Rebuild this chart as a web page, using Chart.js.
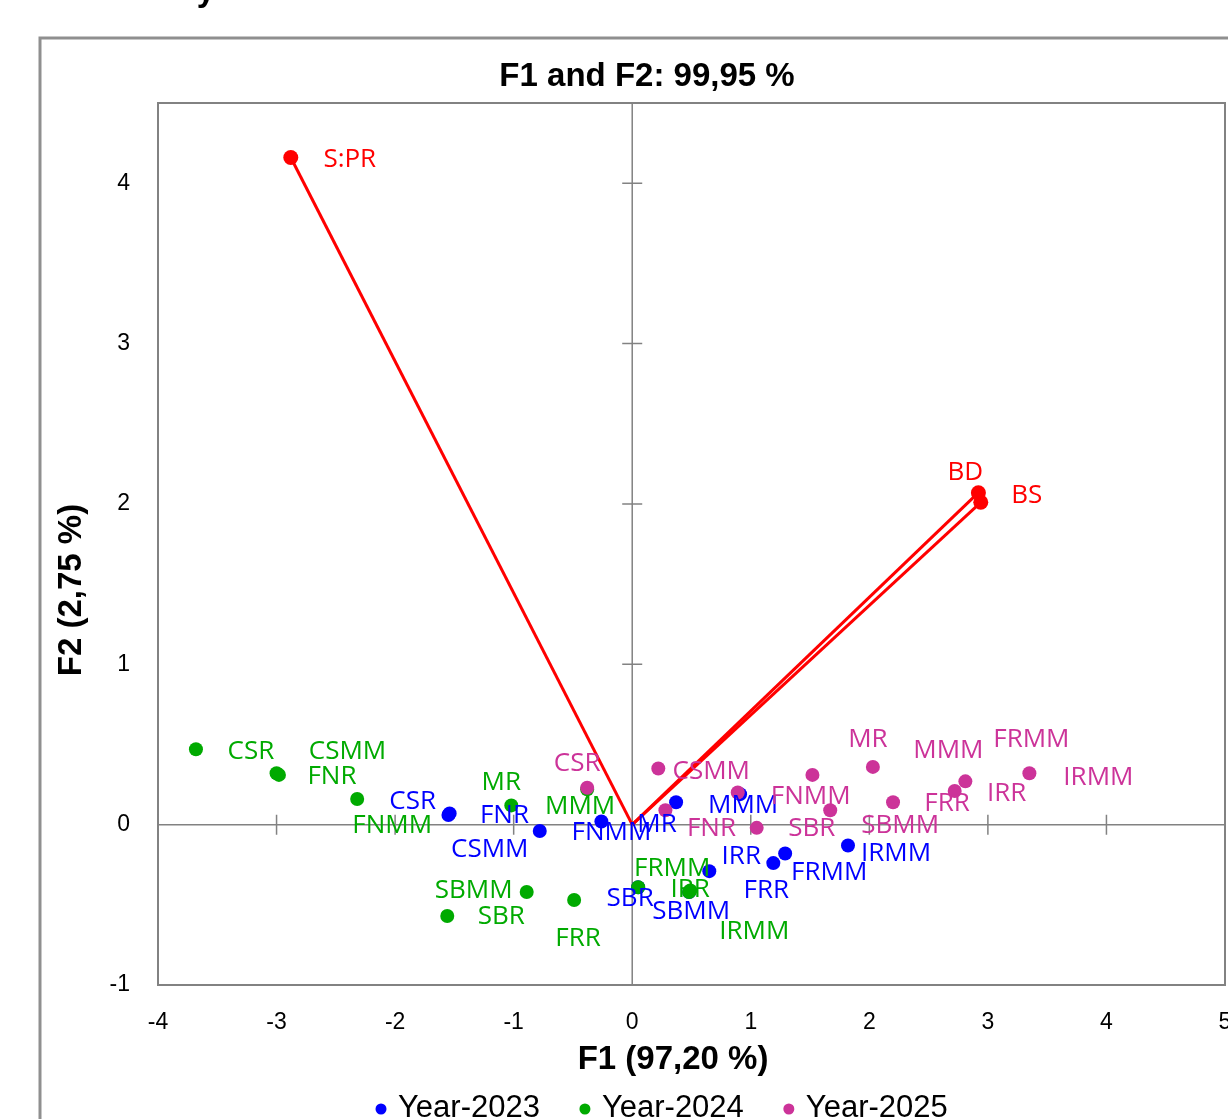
<!DOCTYPE html>
<html lang="en">
<head>
<meta charset="utf-8">
<title>F1 and F2: 99,95 %</title>
<script src="https://cdn.jsdelivr.net/npm/chart.js@4.4.1/dist/chart.umd.min.js"></script>
<style>
  html, body { margin: 0; padding: 0; background: #fff; overflow: hidden; }
  #grafico { position: absolute; left: 0; top: 0; }
</style>
</head>
<body>
<canvas id="grafico" width="1260" height="1140"></canvas>
<script>
// Biplot F1 x F2

const titulo = "F1 and F2: 99,95 %";
const tituloF1 = "F1 (97,20 %)";
const tituloF2 = "F2 (2,75 %)";

const ticksF1 = [-4, -3, -2, -1, 0, 1, 2, 3, 4, 5];
const ticksF2 = [-1, 0, 1, 2, 3, 4];
const limitesF1 = [-4, 5];
const limitesF2 = [-1, 4.5];

const anos = ["Year-2023", "Year-2024", "Year-2025"];
const coresAnos = ["#0000ff", "#00aa00", "#cc3399"];

const nomes2023 = ["CSR", "FNR", "CSMM", "FNMM", "MR", "MMM", "SBR", "SBMM", "IRR", "FRR", "FRMM", "IRMM"];
const f1Ano2023 = [-1.54, -1.55, -0.78, -0.26, 0.37, 0.91, 0.05, 0.48, 0.65, 1.19, 1.29, 1.82];
const f2Ano2023 = [0.07, 0.06, -0.04, 0.02, 0.14, 0.19, -0.39, -0.42, -0.29, -0.24, -0.18, -0.13];

const nomes2024 = ["CSR", "CSMM", "FNR", "FNMM", "MR", "MMM", "SBR", "SBMM", "FRR", "FRMM", "IRR", "IRMM"];
const f1Ano2024 = [-3.68, -3.0, -2.98, -2.32, -1.02, -0.38, -1.56, -0.89, -0.49, 0.05, 0.48, 0.49];
const f2Ano2024 = [0.47, 0.32, 0.31, 0.16, 0.12, 0.22, -0.57, -0.42, -0.47, -0.39, -0.42, -0.41];

const nomes2025 = ["CSR", "CSMM", "FNR", "FNMM", "SBR", "MMM", "SBMM", "MR", "FRR", "IRR", "FRMM", "IRMM"];
const f1Ano2025 = [-0.38, 0.22, 0.28, 0.89, 1.05, 1.52, 1.67, 2.03, 2.2, 2.72, 2.81, 3.35];
const f2Ano2025 = [0.23, 0.35, 0.09, 0.2, -0.02, 0.31, 0.09, 0.36, 0.14, 0.21, 0.27, 0.32];

const variaveis = ["S:PR", "BD", "BS"];
const f1Variaveis = [-2.88, 2.92, 2.94];
const f2Variaveis = [4.16, 2.07, 2.01];

// deslocamento (px) de cada rótulo em relação ao seu ponto
const desloc2023 = [[-37, -12], [56, 1], [-50, 19], [10, 11], [-19, 22], [3, 11], [-8, 11], [2, 20], [32, -15], [-7, 27], [44, 19], [48, 8]];
const desloc2024 = [[55, 2], [71, -22], [53, 2], [35, 27], [-10, -23], [-7, 17], [54, 1], [-53, -1], [4, 39], [34, -19], [1, -2], [64, 41]];
const desloc2025 = [[-10, -24], [53, 3], [46, 18], [73, 4], [55, 1], [136, -24], [70, 15], [-5, -27], [54, 1], [52, 3], [66, -42], [69, 4]];
const deslocVariaveis = [[59, 2], [-13, -20], [46, -7]];

const fonteTexto = '"Liberation Sans", Arial, sans-serif';
const fonteRotulo = '26px "Open Sans", sans-serif';
const cinza = "#828282";

const nomesAnos = [nomes2023, nomes2024, nomes2025];
const f1Anos = [f1Ano2023, f1Ano2024, f1Ano2025];
const f2Anos = [f2Ano2023, f2Ano2024, f2Ano2025];
const deslocAnos = [desloc2023, desloc2024, desloc2025];

function montarDatasets() {
  const datasets = [];

  variaveis.forEach((nome, k) => {
    datasets.push({
      label: nome,
      data: [{ x: 0, y: 0 }, { x: f1Variaveis[k], y: f2Variaveis[k] }],
      showLine: true,
      borderColor: "#ff0000",
      backgroundColor: "#ff0000",
      borderWidth: 3,
      pointRadius: [0, 7.5],
      pointBorderWidth: 0,
      order: 0,
      nomes: [null, nome],
      desloc: [null, deslocVariaveis[k]],
      naLegenda: false,
    });
  });

  anos.forEach((ano, i) => {
    datasets.push({
      label: ano,
      data: f1Anos[i].map((x, j) => ({ x: x, y: f2Anos[i][j] })),
      backgroundColor: coresAnos[i],
      borderColor: coresAnos[i],
      pointRadius: 7,
      pointBorderWidth: 0,
      order: 3 - i,
      nomes: nomesAnos[i],
      desloc: deslocAnos[i],
      naLegenda: true,
    });
  });

  return datasets;
}

// moldura, eixos cruzados no zero e marcas
const pluginEixos = {
  id: "eixos",
  beforeDatasetsDraw(chart) {
    const ctx = chart.ctx;
    const area = chart.chartArea;
    const sx = chart.scales.x;
    const sy = chart.scales.y;
    const x0 = sx.getPixelForValue(0);
    const y0 = sy.getPixelForValue(0);

    ctx.save();
    ctx.strokeStyle = "#8f8f8f";
    ctx.lineWidth = 3;
    ctx.beginPath();
    ctx.moveTo(40, chart.height);
    ctx.lineTo(40, 38);
    ctx.lineTo(chart.width, 38);
    ctx.stroke();

    ctx.strokeStyle = cinza;
    ctx.lineWidth = 2;
    ctx.strokeRect(area.left, area.top, area.right - area.left, area.bottom - area.top);

    ctx.lineWidth = 1.5;
    ctx.beginPath();
    ctx.moveTo(area.left, y0);
    ctx.lineTo(area.right, y0);
    ctx.moveTo(x0, area.top);
    ctx.lineTo(x0, area.bottom);
    ticksF1.forEach((v) => {
      const px = sx.getPixelForValue(v);
      ctx.moveTo(px, y0 - 10);
      ctx.lineTo(px, y0 + 10);
    });
    ticksF2.forEach((v) => {
      const py = sy.getPixelForValue(v);
      ctx.moveTo(x0 - 10, py);
      ctx.lineTo(x0 + 10, py);
    });
    ctx.stroke();
    ctx.restore();
  },
};

const pluginRotulos = {
  id: "rotulos",
  afterDatasetsDraw(chart) {
    const ctx = chart.ctx;
    ctx.save();
    ctx.font = fonteRotulo;
    ctx.textAlign = "center";
    ctx.textBaseline = "middle";
    chart.data.datasets.forEach((ds, i) => {
      const meta = chart.getDatasetMeta(i);
      ds.nomes.forEach((nome, j) => {
        if (!nome) return;
        const p = meta.data[j];
        ctx.fillStyle = ds.borderColor;
        ctx.fillText(nome, p.x + ds.desloc[j][0], p.y + ds.desloc[j][1]);
      });
    });
    ctx.restore();
  },
};

// título, títulos dos eixos e legenda
const pluginTextos = {
  id: "textos",
  afterDraw(chart) {
    const ctx = chart.ctx;
    ctx.save();
    ctx.fillStyle = "#000";
    ctx.textBaseline = "middle";
    ctx.textAlign = "center";

    ctx.font = "bold 33px " + fonteTexto;
    ctx.fillText(titulo, 647, 77);
    ctx.fillText(tituloF1, 673, 1060);

    ctx.save();
    ctx.translate(72, 590);
    ctx.rotate(-Math.PI / 2);
    ctx.fillText(tituloF2, 0, 0);
    ctx.restore();

    ctx.textBaseline = "alphabetic";
    ctx.fillText("y", 206, 1);

    ctx.textAlign = "left";
    ctx.textBaseline = "middle";
    ctx.font = "31px " + fonteTexto;
    let x = 381;
    chart.data.datasets.filter((ds) => ds.naLegenda).forEach((ds) => {
      ctx.fillStyle = ds.backgroundColor;
      ctx.beginPath();
      ctx.arc(x, 1109, 5.5, 0, Math.PI * 2);
      ctx.fill();
      ctx.fillStyle = "#000";
      ctx.fillText(ds.label, x + 17, 1108);
      x += 17 + ctx.measureText(ds.label).width + 45;
    });
    ctx.restore();
  },
};

const ctx = document.getElementById("grafico").getContext("2d");

new Chart(ctx, {
  type: "scatter",
  data: { datasets: montarDatasets() },
  options: {
    responsive: false,
    animation: false,
    devicePixelRatio: 1,
    layout: { padding: { top: 103, right: 35, left: 0, bottom: 0 } },
    plugins: {
      legend: { display: false },
      title: { display: false },
      tooltip: { enabled: false },
    },
    scales: {
      x: {
        type: "linear",
        min: limitesF1[0],
        max: limitesF1[1],
        afterBuildTicks: (scale) => { scale.ticks = ticksF1.map((v) => ({ value: v })); },
        afterFit: (scale) => { scale.height = 155; },
        ticks: {
          color: "#000",
          padding: 24,
          autoSkip: false,
          maxRotation: 0,
          font: { family: fonteTexto, size: 23 },
        },
        grid: { display: false, drawTicks: false },
        border: { display: false },
      },
      y: {
        type: "linear",
        min: limitesF2[0],
        max: limitesF2[1],
        afterBuildTicks: (scale) => { scale.ticks = ticksF2.map((v) => ({ value: v })); },
        afterFit: (scale) => { scale.width = 158; },
        ticks: {
          color: "#000",
          padding: 28,
          autoSkip: false,
          font: { family: fonteTexto, size: 23 },
        },
        grid: { display: false, drawTicks: false },
        border: { display: false },
      },
    },
  },
  plugins: [pluginEixos, pluginRotulos, pluginTextos],
});
</script>
</body>
</html>
